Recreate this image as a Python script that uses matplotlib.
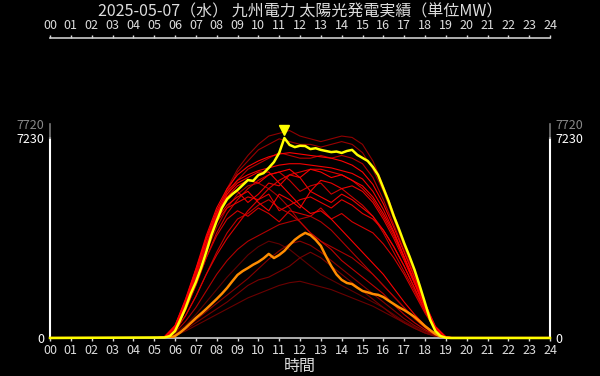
import numpy as np
import matplotlib
matplotlib.use('Agg')
import matplotlib.pyplot as plt

plt.rcParams['font.family'] = ['Noto Sans CJK JP', 'DejaVu Sans']

TITLE = '2025-05-07（水） 九州電力 太陽光発電実績（単位MW）'
PEAK_TODAY = 7230
PEAK_RECORD = 7720

# 今日 (15分刻み, 05:30 から)
today_start = 5.5
today_vals = [20, 70, 250, 650, 1080, 1590, 2020, 2530, 3110, 3720,
              4230, 4700, 5020, 5200, 5350, 5530, 5710, 5680, 5890, 5960,
              6150, 6360, 6690, 7230, 6980, 6900, 6950, 6940, 6830, 6860,
              6800, 6760, 6720, 6740, 6690, 6760, 6800, 6620, 6510, 6400,
              6180, 5890, 5420, 4950, 4410, 3940, 3430, 2960, 2460, 1880,
              1270, 650, 250, 70, 10, 0]

# 前日 (15分刻み, 05:45 から)
prev_start = 5.75
prev_vals = [0, 70, 200, 360, 540, 720, 880, 1050, 1230, 1410,
             1600, 1810, 2050, 2280, 2420, 2530, 2650, 2750, 2880, 3040,
             2890, 3000, 3150, 3360, 3550, 3690, 3800, 3720, 3550, 3330,
             2950, 2600, 2300, 2100, 1990, 1950, 1820, 1700, 1650, 1590,
             1560, 1480, 1350, 1230, 1110, 1010, 890, 760, 600, 430,
             280, 145, 50, 0]

# 過去の日 (30分刻み, 05:00 から)
past_start = 5.0
past_days = [
    [0, 10, 150, 450, 850, 1300, 1750, 2200, 2600, 3000, 3300, 3500, 3400, 3200, 2900,
     2600, 2300, 2100, 1900, 1700, 1500, 1300, 1100, 850, 600, 400, 200, 70, 5, 0],
    [0, 5, 80, 250, 450, 650, 850, 1050, 1250, 1450, 1600, 1750, 1900, 2000, 2050,
     1950, 1850, 1750, 1600, 1450, 1300, 1150, 950, 750, 550, 350, 180, 60, 5, 0],
    [0, 10, 100, 300, 550, 800, 1050, 1300, 1600, 1900, 2100, 2200, 2400, 2600, 2900,
     3100, 2900, 2600, 2300, 2000, 1700, 1400, 1100, 800, 550, 350, 180, 60, 5, 0],
    [0, 10, 120, 350, 650, 950, 1250, 1550, 1850, 2150, 2500, 2850, 3150, 3400, 3500,
     3350, 3100, 2800, 2500, 2200, 1900, 1600, 1300, 1000, 700, 450, 250, 80, 5, 0],
    [0, 30, 350, 1200, 2300, 3400, 4500, 5400, 6100, 6600, 7000, 7300, 7400, 7500, 7300,
     7200, 7100, 7200, 7300, 7250, 7000, 6400, 5500, 4500, 3400, 2300, 1250, 400, 35, 0],
    [0, 30, 330, 1150, 2250, 3350, 4400, 5300, 6000, 6400, 6800, 7000, 7200, 7100, 7000,
     7000, 6900, 7000, 7100, 7000, 6700, 6100, 5300, 4300, 3300, 2200, 1200, 380, 30, 0],
    [0, 30, 330, 1100, 2100, 3100, 4000, 4700, 5200, 5500, 5600, 5400, 5100, 4700, 4200,
     3800, 3500, 3300, 3100, 2900, 2600, 2300, 1900, 1500, 1100, 700, 380, 120, 10, 0],
    [0, 30, 340, 1200, 2300, 3400, 4450, 5200, 5700, 6100, 6300, 6500, 6700, 6600, 6500,
     6500, 6600, 6500, 6600, 6500, 6300, 5800, 5000, 4100, 3150, 2150, 1150, 370, 30, 0],
    [0, 15, 200, 600, 1100, 1700, 2300, 2800, 3200, 3500, 3700, 3900, 4100, 4200, 4300,
     4400, 4200, 3900, 3500, 3100, 2700, 2300, 1900, 1500, 1100, 700, 380, 120, 10, 0],
    [0, 20, 250, 800, 1500, 2300, 3100, 3800, 4300, 4500, 4800, 5000, 4700, 4500, 4200,
     3800, 3500, 3200, 2800, 2500, 2200, 1900, 1600, 1200, 850, 550, 300, 100, 10, 0],
    [0, 25, 300, 1000, 1900, 2900, 3800, 4500, 5000, 5400, 5700, 5900, 6000, 5700, 5300,
     5500, 5600, 5200, 5400, 5100, 4800, 4400, 3800, 3100, 2400, 1700, 950, 300, 25, 0],
    [0, 20, 280, 1000, 1900, 2900, 3700, 4300, 4600, 4400, 4700, 4500, 4200, 4600, 4500,
     4400, 4700, 4300, 4500, 4200, 4000, 3800, 3400, 2900, 2300, 1600, 900, 300, 25, 0],
    [0, 20, 250, 800, 1500, 2300, 3000, 3600, 4100, 4600, 5000, 5400, 5700, 5900, 6000,
     6100, 6100, 6000, 5900, 5700, 5400, 5000, 4400, 3700, 2900, 2000, 1100, 350, 30, 0],
    [0, 30, 330, 1150, 2200, 3300, 4200, 4700, 4900, 5100, 5000, 5200, 4600, 4800, 5000,
     5100, 4900, 4700, 5000, 4800, 4500, 4300, 3900, 3300, 2600, 1800, 1000, 320, 30, 0],
    [0, 30, 350, 1200, 2250, 3400, 4400, 5100, 5300, 4900, 5200, 5600, 5500, 5900, 5800,
     5300, 5700, 5600, 5400, 5500, 5300, 4900, 4300, 3600, 2800, 1950, 1100, 350, 30, 0],
    [0, 35, 380, 1250, 2300, 3400, 4300, 4800, 5100, 5300, 4900, 4600, 5200, 5000, 4700,
     5300, 5100, 4900, 5200, 5000, 4700, 4400, 3900, 3300, 2600, 1800, 1000, 330, 30, 0],
    [0, 40, 400, 1300, 2400, 3600, 4600, 5300, 5700, 5900, 6050, 6150, 6250, 6300, 6300,
     6250, 6200, 6150, 6050, 5950, 5750, 5300, 4650, 3850, 2950, 2050, 1150, 380, 30, 0],
    [0, 45, 420, 1350, 2450, 3550, 4500, 5200, 5600, 5800, 6000, 6000, 5600, 5200, 4800,
     4500, 4600, 4300, 3900, 3500, 3100, 2700, 2300, 1800, 1300, 850, 450, 150, 15, 0],
    [0, 45, 430, 1350, 2450, 3600, 4500, 5100, 5500, 5700, 5600, 5900, 6000, 6100, 5800,
     6100, 6000, 5800, 5900, 5700, 5500, 5100, 4500, 3800, 2900, 2000, 1100, 370, 35, 0],
    [0, 50, 450, 1400, 2500, 3700, 4700, 5400, 5900, 6200, 6400, 6550, 6650, 6700, 6650,
     6600, 6550, 6500, 6400, 6250, 6000, 5550, 4850, 4000, 3100, 2200, 1250, 420, 40, 0],
]
past_colors = ['#600000', '#6a0000', '#780000', '#860000', '#900000', '#9a0000',
               '#a80000', '#b40000', '#b00000', '#c00000', '#cc0000', '#d40000',
               '#dc0000', '#e40000', '#ea0000', '#f00000', '#f40000', '#f80000',
               '#fc0000', '#ff0000']

hours = list(range(25))
hour_labels = [f'{h:02d}' for h in hours]


def pad(start, step, vals):
    """前後に 0 時・24 時の 0 を付ける"""
    t = start + step * np.arange(len(vals))
    return np.concatenate([[0], t, [24]]), np.concatenate([[0], vals, [0]])


fig = plt.figure(figsize=(6, 3.76), dpi=100, facecolor='black')
ax = fig.add_axes([50 / 600, 38 / 376, 500 / 600, 300 / 376])
ax.set_facecolor('black')

for vals, c in zip(past_days, past_colors):
    x, y = pad(past_start, 0.5, vals)
    ax.plot(x, y, color=c, lw=0.8, zorder=2)

x, y = pad(prev_start, 0.25, prev_vals)
ax.plot(x, y, color='#ff8c00', lw=1.8, zorder=4)

x, y = pad(today_start, 0.25, today_vals)
ax.plot(x, y, color='#ffff00', lw=1.8, zorder=5, clip_on=False)
i_max = int(np.argmax(y))
ax.plot(x[i_max], y[i_max] + 300, marker='v', color='#ffff00',
        markersize=7, zorder=6, clip_on=False)

ax.set_xlim(0, 24)
ax.set_ylim(0, PEAK_TODAY * 1.5)

# 軸
for s in ['left', 'right']:
    ax.spines[s].set_bounds(0, PEAK_TODAY)
    ax.spines[s].set_color('white')
    ax.spines[s].set_linewidth(1.5)
for s in ['top', 'bottom']:
    ax.spines[s].set_color('#cccccc')
    ax.spines[s].set_linewidth(1.2)
for xx in [0, 24]:
    ax.plot([xx, xx], [PEAK_TODAY, PEAK_RECORD], color='#777777', lw=1.2,
            clip_on=False, zorder=3)

ax.set_xticks(hours)
ax.set_xticklabels(hour_labels)
ax.tick_params(axis='x', top=True, labeltop=True, colors='#dddddd',
               labelsize=9, length=2, width=1, pad=2)

ax.set_yticks([0, PEAK_TODAY, PEAK_RECORD])
ax.set_yticklabels(['0', str(PEAK_TODAY), str(PEAK_RECORD)])
ax.tick_params(axis='y', left=True, right=True, labelleft=True, labelright=True,
               labelsize=9, length=3, width=1, pad=1)
for tick, c in zip(ax.yaxis.get_major_ticks(), ['white', 'white', '#888888']):
    tick.label1.set_color(c)
    tick.label2.set_color(c)
    tick.tick1line.set_color(c)
    tick.tick2line.set_color(c)

ax.set_xlabel('時間', color='#dddddd', fontsize=11.5, labelpad=1)
fig.text(0.5, 1 - 12 / 376, TITLE, color='#dddddd', fontsize=11.5,
         ha='center', va='center')

fig.savefig('out.png', dpi=100, facecolor='black')
